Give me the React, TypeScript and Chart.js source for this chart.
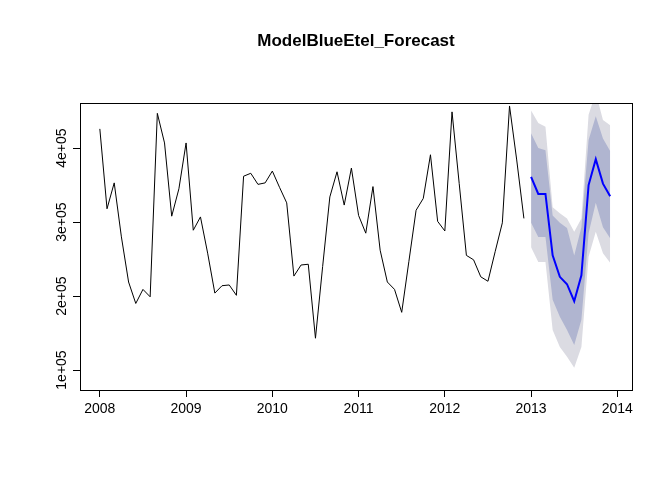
import React, { useEffect, useRef } from "react";
import { Chart, registerables } from "chart.js";
Chart.register(...registerables);

const histValues = [
  426000, 318000, 353000, 280000, 219000, 190000, 209000, 199000, 447000, 407000, 308000, 345000,
  407000, 289000, 307000, 258000, 204000, 214000, 215000, 201000, 362000, 366000, 351000, 353000,
  369000, 347000, 326000, 227000, 242000, 243000, 143000, 240000, 334000, 368000, 323000, 373000,
  309000, 285000, 348000, 262000, 219000, 209000, 178000, 247000, 316000, 332000, 391000, 301000,
  288000, 449000, 352000, 255000, 249000, 226000, 220000, 260000, 299000, 457000, 384000, 305000,
];
const fcMean = [361000, 338000, 338000, 255000, 226000, 216000, 193000, 228000, 350000, 385000, 352000, 335000];
const hi80 = [420000, 400000, 397000, 309000, 299000, 292000, 255000, 293000, 411000, 443000, 413000, 396000];
const lo80 = [299000, 280000, 280000, 195000, 172000, 154000, 134000, 168000, 285000, 326000, 293000, 278000];
const hi95 = [451000, 434000, 429000, 320000, 312000, 305000, 287000, 305000, 445000, 475000, 438000, 431000];
const lo95 = [266000, 246000, 246000, 154000, 131000, 118000, 103000, 131000, 253000, 287000, 258000, 245000];
const xTicks = [2008, 2009, 2010, 2011, 2012, 2013, 2014];
const yTicks = [100000, 200000, 300000, 400000];
const yTickLabels = ["1e+05", "2e+05", "3e+05", "4e+05"];
const titleText = "ModelBlueEtel_Forecast";

const toPts = (arr: number[], start: number) => arr.map((v, i) => ({ x: start + i / 12, y: v }));

export default function App() {
  const ref = useRef<HTMLCanvasElement>(null);
  useEffect(() => {
    document.body.style.margin = "0";
    const font = "Liberation Sans, Arial, sans-serif";
    const deco = {
      id: "deco",
      afterDraw(c: any) {
        const ctx = c.ctx;
        const a = c.chartArea;
        ctx.save();
        ctx.strokeStyle = "#000";
        ctx.lineWidth = 1;
        ctx.strokeRect(Math.round(a.left) + 0.5, Math.round(a.top) + 0.5, Math.round(a.right - a.left), Math.round(a.bottom - a.top));
        ctx.fillStyle = "#000";
        ctx.font = "bold 17px " + font;
        ctx.textAlign = "center";
        ctx.textBaseline = "middle";
        ctx.fillText(titleText, (a.left + a.right) / 2, 41);
        const ys = c.scales.y;
        ctx.font = "14px " + font;
        yTicks.forEach((v, i) => {
          const py = ys.getPixelForValue(v);
          ctx.save();
          ctx.translate(62, py);
          ctx.rotate(-Math.PI / 2);
          ctx.fillText(yTickLabels[i], 0, 0);
          ctx.restore();
        });
        ctx.restore();
      },
    };
    const ch = new Chart(ref.current!, {
      type: "line",
      data: {
        datasets: [
          { data: toPts(fcMean, 2013), borderColor: "#0000ff", borderWidth: 2, pointRadius: 0, fill: false, tension: 0 },
          { data: toPts(histValues, 2008), borderColor: "#000", borderWidth: 1, pointRadius: 0, fill: false, tension: 0 },
          { data: toPts(hi80, 2013), borderWidth: 0, pointRadius: 0, fill: "+1", backgroundColor: "rgb(176,181,208)" },
          { data: toPts(lo80, 2013), borderWidth: 0, pointRadius: 0, fill: false, backgroundColor: "rgba(0,0,0,0)" },
          { data: toPts(hi95, 2013), borderWidth: 0, pointRadius: 0, fill: "+1", backgroundColor: "rgb(219,219,226)" },
          { data: toPts(lo95, 2013), borderWidth: 0, pointRadius: 0, fill: false, backgroundColor: "rgba(0,0,0,0)" },
        ] as any,
      },
      options: {
        animation: false,
        responsive: false,
        layout: { padding: { top: 103, right: 40, left: 0, bottom: 0 } },
        plugins: { legend: { display: false }, tooltip: { enabled: false }, title: { display: false } },
        scales: {
          x: {
            type: "linear",
            min: 2007.77,
            max: 2014.17,
            afterBuildTicks: (s: any) => { s.ticks = xTicks.map((v) => ({ value: v })); },
            afterFit: (s: any) => { s.height = 90; },
            border: { display: false },
            grid: { drawOnChartArea: false, drawTicks: true, tickLength: 7, color: "#000" },
            ticks: { color: "#000", font: { family: font, size: 14 }, padding: 4, maxRotation: 0, callback: (v: any) => String(v) },
          },
          y: {
            type: "linear",
            min: 73000,
            max: 461000,
            afterBuildTicks: (s: any) => { s.ticks = yTicks.map((v) => ({ value: v })); },
            afterFit: (s: any) => { s.width = 80; },
            border: { display: false },
            grid: { drawOnChartArea: false, drawTicks: true, tickLength: 7, color: "#000" },
            ticks: { display: true, color: "rgba(0,0,0,0)", callback: () => "" },
          },
        },
      } as any,
      plugins: [deco],
    });
    return () => ch.destroy();
  }, []);
  return <canvas ref={ref} width={672} height={480} style={{ display: "block" }} />;
}
